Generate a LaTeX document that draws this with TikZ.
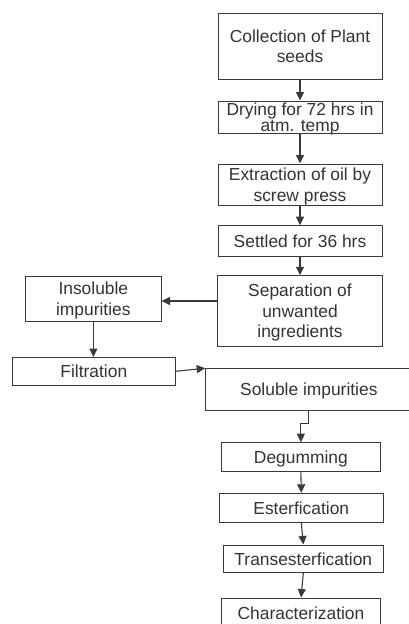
\documentclass[tikz,border=0pt]{standalone}
\usepackage{fontspec}
\setmainfont{Liberation Sans}
\usetikzlibrary{arrows.meta,calc}
\definecolor{ln}{HTML}{3A3A3A}
\definecolor{tx}{HTML}{333333}
\begin{document}
\begin{tikzpicture}[x=1pt,y=-1pt,
  box/.style={draw=ln,line width=1pt,rectangle,inner sep=0pt,text=tx,align=center,
    font=\fontsize{17.4}{20.5}\selectfont,text depth=0pt},
  arr/.style={draw=ln,line width=1.1pt,-{Triangle[length=8.5pt,width=8pt]}}]
\useasboundingbox (0,0) rectangle (408,624);
\node[box,minimum width=164pt,minimum height=66pt] (b1) at (300,46) {Collection of Plant\\seeds};
\node[box,minimum width=164pt,minimum height=32pt,font=\fontsize{17.4}{14.5}\selectfont,text depth=-4pt] (b2) at (300,117) {Drying for 72 hrs in\\atm. temp};
\node[box,minimum width=164pt,minimum height=41pt] (b3) at (300,184.5) {Extraction of oil by\\screw press};
\node[box,minimum width=164pt,minimum height=31pt] (b4) at (300,241.2) {Settled for 36 hrs};
\node[box,minimum width=164.6pt,minimum height=70.3pt] (b5) at (300,310.9) {Separation of\\unwanted\\ingredients};
\node[box,minimum width=135.3pt,minimum height=45.5pt] (ins) at (93.35,298.8) {Insoluble\\impurities};
\node[box,minimum width=163.7pt,minimum height=27.5pt] (fil) at (93.85,371.25) {Filtration};
\node[box,minimum width=206.3pt,minimum height=41.8pt] (sol) at (308.85,389.6) {Soluble impurities};
\node[box,minimum width=159.7pt,minimum height=28.3pt] (deg) at (300.85,456.85) {Degumming};
\node[box,minimum width=164pt,minimum height=29pt] (est) at (301.3,507.8) {Esterfication};
\node[box,minimum width=160pt,minimum height=27.7pt] (tra) at (303.3,558.85) {Transesterfication};
\node[box,minimum width=158.6pt,minimum height=30pt] (cha) at (301,613) {Characterization};
\draw[arr] (b1) -- (b2);
\draw[arr] (b2) -- (b3);
\draw[arr] (b3) -- (b4);
\draw[arr] (b4) -- (b5);
\draw[arr] ($(ins.east -| b5.west)+(0,2.2)$) -- ($(ins.east)+(0,2.2)$);
\draw[arr] (ins.south) -- (ins.south |- fil.north);
\draw[arr] (fil.east) -- (sol.north west);
\draw[arr] (sol.south) -- ++(0,12.8) -| (deg.north);
\draw[arr] (deg.south) -- (est.north);
\draw[arr] (est.south) -- (tra.north);
\draw[arr] (tra.south) -- (cha.north);
\end{tikzpicture}
\end{document}
